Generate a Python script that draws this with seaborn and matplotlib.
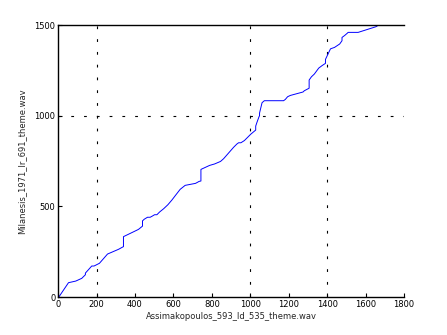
import matplotlib
matplotlib.use("Agg")
import matplotlib.pyplot as plt
import seaborn as sns
import pandas as pd

# DTW alignment path (frame indices)
path_x = [0, 5, 54, 71, 92, 123, 142, 142, 175, 187, 215, 248, 257, 314, 340, 340,
          387, 418, 439, 439, 448, 465, 479, 491, 502, 514, 528, 549, 571, 592, 613,
          635, 661, 715, 734, 743, 743, 788, 814, 845, 861, 913, 930, 939, 951, 969,
          986, 1003, 1028, 1028, 1035, 1045, 1048, 1048, 1061, 1073, 1173, 1182, 1194,
          1208, 1274, 1281, 1306, 1306, 1318, 1333, 1356, 1375, 1391, 1391, 1395, 1417,
          1427, 1438, 1465, 1477, 1477, 1491, 1503, 1509, 1561, 1653, 1667]
path_y = [0, 2, 79, 83, 88, 103, 123, 132, 171, 171, 186, 226, 237, 263, 278, 333,
          357, 373, 391, 420, 429, 440, 440, 447, 454, 454, 469, 487, 509, 535, 564,
          594, 616, 627, 638, 640, 704, 726, 734, 748, 763, 826, 844, 851, 851, 863,
          881, 899, 921, 943, 965, 994, 1000, 1015, 1072, 1083, 1083, 1090, 1105,
          1112, 1131, 1138, 1152, 1197, 1215, 1230, 1263, 1278, 1289, 1311, 1320, 1369,
          1373, 1377, 1396, 1414, 1432, 1443, 1454, 1460, 1460, 1491, 1500]

grid_x = [200, 1000, 1400]
grid_y = [1000]
x_ticks = [0, 200, 400, 600, 800, 1000, 1200, 1400, 1600, 1800]
y_ticks = [0, 500, 1000, 1500]
x_label = "Assimakopoulos_593_ld_535_theme.wav"
y_label = "Milanesis_1971_lr_691_theme.wav"

sns.set_style("white")
plt.rcParams['font.family'] = ['DejaVu Sans']

fig = plt.figure(figsize=(4.47, 3.35), dpi=100)
ax = fig.add_axes([0.13, 0.1134, 0.774, 0.8116])

df = pd.DataFrame({"x": path_x, "y": path_y})
sns.lineplot(data=df, x="x", y="y", sort=False, estimator=None, ax=ax,
             color="#0000ff", linewidth=0.7)

for gx in grid_x:
    ax.axvline(gx, color="black", linewidth=0.8, linestyle=(0, (2.5, 9)), zorder=0)
for gy in grid_y:
    ax.axhline(gy, color="black", linewidth=0.8, linestyle=(0, (2.5, 9)), zorder=0)

ax.set_xlim(0, 1800)
ax.set_ylim(0, 1500)
ax.set_xticks(x_ticks)
ax.set_yticks(y_ticks)
ax.tick_params(direction="in", length=3, width=0.8, labelsize=6, colors="black",
               top=False, right=False, bottom=True, left=True, pad=2)
for s in ["left", "bottom", "top"]:
    ax.spines[s].set_visible(True)
    ax.spines[s].set_color("black")
    ax.spines[s].set_linewidth(1.0)
ax.spines["right"].set_visible(False)

ax.set_xlabel(x_label, fontsize=6, labelpad=2)
ax.set_ylabel(y_label, fontsize=6, labelpad=6)

fig.savefig("out.png", dpi=100)
